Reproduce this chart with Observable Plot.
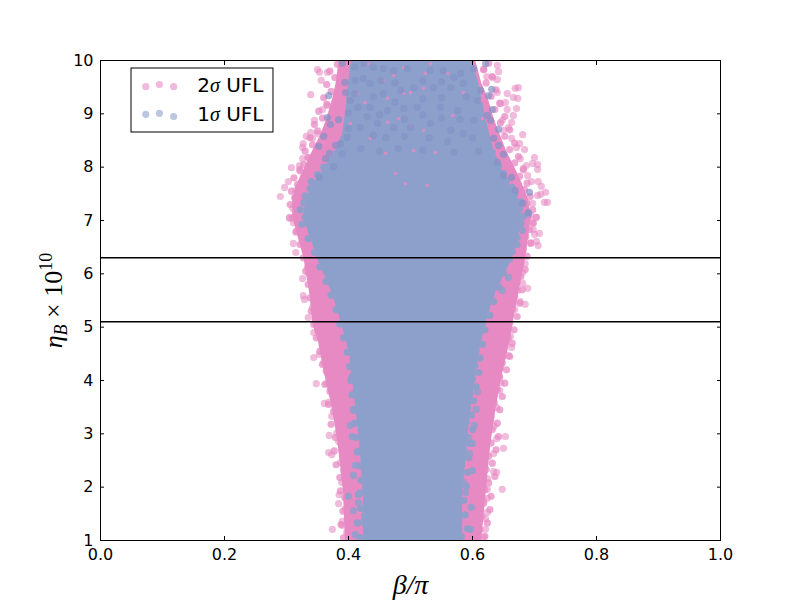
<!DOCTYPE html>
<html>
<head>
<meta charset="utf-8">
<style>html,body{margin:0;padding:0;background:#fff}</style>
<script src="https://cdn.jsdelivr.net/npm/d3@7"></script>
<script src="https://cdn.jsdelivr.net/npm/@observablehq/plot@0.6"></script>
</head>
<body>
<div id="chart"></div>
<script>
const xTicks = [0, 0.2, 0.4, 0.6, 0.8, 1];
const yTicks = [1, 2, 3, 4, 5, 6, 7, 8, 9, 10];
const bounds = [5.1, 6.3];
const pinkColor = "#e78ac3";
const blueColor = "#8da0cb";
const cloudColor = "#8291c5";

// dense core outline of each band: [eta, left, right]
const pinkCore = [[1,.395,.615],[1.9,.392,.622],[2.84,.383,.63],[3.47,.374,.638],[4.1,.362,.648],[4.7,.352,.66],[5.1,.342,.666],[5.6,.338,.674],[6.3,.328,.686],[7.06,.31,.695],[7.4,.31,.69],[7.7,.318,.68],[8,.33,.668],[8.3,.342,.655],[8.6,.355,.645],[8.9,.365,.635],[9.3,.375,.625],[9.57,.38,.615],[10,.385,.605]];
const blueCore = [[1,.424,.584],[1.9,.424,.584],[2.84,.418,.592],[3.47,.412,.597],[4.06,.406,.605],[4.5,.402,.61],[5.1,.388,.622],[5.63,.374,.636],[6.3,.349,.665],[6.57,.342,.672],[7.06,.327,.68],[7.4,.332,.674],[7.7,.344,.658],[8,.362,.645],[8.3,.38,.635],[8.6,.39,.628],[9,.395,.62],[9.57,.4,.61],[10,.405,.6]];

// individually visible points: [beta/pi, eta]
const pinkPoints = [[.290,7.45],[.297,7.62],[.303,7.73],[.308,7.99],[.321,7.96],[.326,8.37],[.327,8.44],[.332,8.58],[.339,8.65],[.345,8.88],[.339,9.36],[.350,9.83],[.356,9.63],[.353,9.78],[.366,9.78],[.358,9.08],[.366,9.16],[.305,7.04],[.310,7.23],[.313,7.43],[.319,7.62],[.327,7.81],[.321,8.03],[.326,8.16],[.334,8.18],[.342,8.54],[.350,8.63],[.360,8.63],[.327,7.69],[.315,7.56],
[.640,9.91],[.642,9.79],[.640,9.64],[.618,9.83],[.623,9.70],[.632,9.68],[.640,9.40],[.656,9.38],[.674,9.49],[.669,9.48],[.673,9.29],[.666,9.31],[.653,9.21],[.645,9.19],[.671,9.10],[.656,9.08],[.666,8.97],[.648,8.88],[.663,8.84],[.658,8.74],[.681,8.61],[.650,8.69],[.663,8.54],[.676,8.44],[.671,8.37],[.684,8.33],[.677,8.16],[.700,8.18],[.697,8.07],[.705,8.05],[.705,7.96],[.687,8.03],[.682,7.98],[.689,7.84],[.695,7.73],[.706,7.73],[.711,7.64],[.718,7.53],[.710,7.49],[.705,7.47],[.716,7.34],[.721,7.34],[.697,7.32],[.694,7.09],[.703,7.06],
[.305,7.06],[.311,6.96],[.315,6.78],[.311,6.57],[.315,6.40],[.326,5.91],[.327,5.59],[.329,5.52],[.342,5.37],[.335,5.18],[.334,6.12],[.335,6.01],[.344,4.90],[.350,4.94],[.355,5.03],[.344,4.43],[.353,4.49],[.360,4.34],[.369,4.21],[.382,4.32],[.342,5.69],
[.348,3.94],[.365,3.94],[.361,3.57],[.368,3.59],[.373,3.33],[.369,2.97],[.381,3.01],[.368,2.65],[.373,2.61],[.389,2.69],[.387,2.46],[.389,2.09],[.385,1.86],[.384,1.69],[.390,1.36],[.374,1.21],[.390,1.28],[.371,3.96],[.379,3.49],[.384,3.16],[.384,2.86],[.392,2.31],[.395,1.60],[.398,1.94],[.397,1.15],
[.703,7.06],[.697,6.96],[.708,6.76],[.700,6.74],[.698,6.83],[.703,6.61],[.706,6.53],[.694,6.57],[.685,6.19],[.681,6.03],[.681,5.82],[.689,5.73],[.673,5.69],[.677,5.48],[.685,5.43],[.668,5.33],[.660,5.28],[.661,4.83],[.658,4.79],[.663,4.62],[.658,4.47],[.648,4.43],[.645,4.23],[.640,4.13],[.644,4.06],
[.645,3.96],[.644,3.81],[.639,3.49],[.629,3.25],[.635,3.14],[.653,2.95],[.639,2.91],[.650,2.73],[.634,2.63],[.634,2.29],[.639,2.28],[.648,1.96],[.624,1.96],[.624,2.16],[.624,1.79],[.618,1.75],[.624,1.53],[.621,1.41],[.621,1.21],[.618,1.06]];

// pink points crowding the left and right edges of the dense core
const pinkEdgeLeft = [[.392,1.05],[.402,1.18],[.388,1.3],[.398,1.42],[.391,1.55],[.404,1.68],[.394,1.8],[.387,1.93],[.4,2.05],[.386,2.18],[.394,2.3],[.38,2.42],[.391,2.55],[.377,2.68],[.388,2.8],[.379,2.93],[.385,3.05],[.372,3.18],[.382,3.3],[.376,3.42],[.368,3.55],[.38,3.68],[.37,3.8],[.362,3.93],[.373,4.05],[.364,4.18],[.358,4.3],[.368,4.42],[.354,4.55],[.36,4.68],[.348,4.8],[.356,4.93],[.344,5.05],[.35,5.18],[.34,5.3],[.347,5.42],[.338,5.55],[.344,5.68],[.335,5.8],[.342,5.93],[.331,6.05],[.337,6.18],[.327,6.3],[.333,6.42],[.322,6.55],[.328,6.68],[.316,6.8],[.322,6.93],[.31,7.05],[.317,7.18],[.306,7.3],[.314,7.42],[.308,7.55],[.318,7.68],[.312,7.8],[.322,7.93],[.328,8.05],[.336,8.18],[.33,8.3],[.342,8.42],[.338,8.55],[.35,8.68],[.345,8.8],[.358,8.92],[.352,9.05],[.365,9.18],[.36,9.3],[.372,9.42],[.365,9.55],[.378,9.68],[.37,9.8],[.382,9.93]];
const pinkEdgeRight = [[.62,1.08],[.612,1.2],[.624,1.33],[.615,1.45],[.628,1.58],[.618,1.7],[.63,1.83],[.62,1.95],[.626,2.08],[.636,2.2],[.622,2.33],[.632,2.45],[.626,2.58],[.638,2.7],[.63,2.83],[.642,2.95],[.632,3.08],[.64,3.2],[.63,3.33],[.644,3.45],[.635,3.58],[.648,3.7],[.64,3.83],[.652,3.95],[.643,4.08],[.655,4.2],[.648,4.33],[.66,4.45],[.65,4.58],[.664,4.7],[.656,4.83],[.667,4.95],[.66,5.08],[.672,5.2],[.664,5.33],[.676,5.45],[.668,5.58],[.68,5.7],[.672,5.83],[.678,5.95],[.685,6.08],[.678,6.2],[.688,6.33],[.682,6.45],[.694,6.58],[.686,6.7],[.692,6.83],[.698,6.95],[.69,7.08],[.697,7.2],[.688,7.33],[.693,7.45],[.684,7.58],[.688,7.7],[.676,7.83],[.682,7.95],[.668,8.08],[.674,8.2],[.66,8.33],[.668,8.45],[.652,8.58],[.66,8.7],[.645,8.83],[.652,8.95],[.636,9.08],[.644,9.2],[.63,9.33],[.638,9.45],[.622,9.58],[.632,9.7],[.618,9.83],[.626,9.95]];

// blue points along the blue / pink border
const blueEdgeLeft = [[.418,1.06],[.43,1.2],[.414,1.33],[.426,1.46],[.42,1.6],[.432,1.73],[.416,1.86],[.428,2],[.42,2.13],[.432,2.26],[.418,2.4],[.426,2.53],[.414,2.66],[.424,2.8],[.412,2.93],[.422,3.06],[.41,3.2],[.42,3.33],[.408,3.46],[.418,3.6],[.406,3.73],[.414,3.86],[.404,4],[.412,4.13],[.402,4.26],[.408,4.4],[.398,4.53],[.404,4.66],[.392,4.8],[.398,4.93],[.386,5.06],[.392,5.2],[.38,5.33],[.386,5.46],[.372,5.6],[.378,5.73],[.364,5.86],[.37,6],[.354,6.13],[.36,6.26],[.345,6.4],[.35,6.53],[.335,6.66],[.34,6.8],[.325,6.93],[.33,7.06],[.322,7.2],[.328,7.33],[.33,7.46],[.338,7.6],[.34,7.73],[.35,7.86],[.36,8],[.372,8.13],[.38,8.26],[.39,8.4],[.392,8.53]];
const blueEdgeRight = [[.582,1.08],[.592,1.22],[.578,1.35],[.588,1.48],[.576,1.62],[.586,1.75],[.578,1.88],[.59,2.02],[.58,2.15],[.592,2.28],[.582,2.42],[.594,2.55],[.586,2.68],[.596,2.82],[.588,2.95],[.6,3.08],[.59,3.22],[.598,3.35],[.592,3.48],[.602,3.62],[.596,3.75],[.606,3.88],[.6,4.02],[.61,4.15],[.604,4.28],[.612,4.42],[.606,4.55],[.616,4.68],[.61,4.82],[.62,4.95],[.616,5.08],[.628,5.22],[.622,5.35],[.634,5.48],[.63,5.62],[.642,5.75],[.64,5.88],[.65,6.02],[.65,6.15],[.66,6.28],[.664,6.42],[.672,6.55],[.672,6.68],[.68,6.82],[.678,6.95],[.682,7.08],[.676,7.22],[.678,7.35],[.668,7.48],[.664,7.62],[.655,7.75],[.65,7.88],[.642,8.02],[.634,8.15],[.632,8.28]];

const bluePoints = [[.405,4.04],[.411,3.78],[.408,3.44],[.403,3.16],[.406,2.95],[.424,3.29],[.419,2.69],[.411,2.41],[.408,2.22],[.419,1.90],[.400,1.83],[.416,1.71],[.408,1.56],[.423,1.34],[.411,1.11],
[.595,4.06],[.608,3.79],[.606,3.46],[.603,3.16],[.594,2.93],[.600,2.82],[.595,2.63],[.600,2.31],[.585,2.09],[.589,1.90],[.598,1.62],[.597,1.21],
[.406,4.08],[.398,4.81],[.411,4.69],[.384,5.37],[.371,5.91],[.690,7.13],[.658,5.93],[.648,5.69]];

// darker blue cloud at the top of the band
const blueCloud = [[.368,9.34],[.394,9.59],[.411,9.63],[.424,9.66],[.403,9.25],[.366,8.93],[.371,8.80],[.360,8.58],[.352,8.39],[.384,8.89],[.379,8.41],[.387,8.44],[.363,8.16],[.369,8.26],[.398,8.56],[.376,8.01],[.353,7.81],[.440,9.87],[.456,9.85],[.473,9.81],[.495,9.85],[.435,9.57],[.456,9.38],[.484,9.44],[.505,9.49],[.415,9.12],[.435,9.12],[.463,9.06],[.489,9.10],[.511,9.12],[.419,8.74],[.447,8.82],[.473,8.74],[.500,8.74],
[.621,9.94],[.532,9.81],[.553,9.81],[.581,9.76],[.602,9.85],[.537,9.49],[.565,9.49],[.585,9.57],[.613,9.44],[.631,9.46],[.626,9.34],[.608,9.25],[.632,9.08],[.624,8.97],[.602,8.88],[.629,8.88],[.548,9.12],[.576,9.06],[.532,8.82],[.565,8.69],[.585,8.63],[.642,8.71],[.634,8.54],[.642,8.41],[.650,8.24],[.640,8.09],[.650,7.84],[.663,7.81],[.669,7.56],[.692,7.53],[.681,7.32],[.690,7.15],
[.39,9.95],[.41,9.88],[.425,9.95],[.452,9.62],[.475,9.58],[.52,9.62],[.55,9.6],[.57,9.68],[.395,9.4],[.41,9.38],[.44,9.32],[.475,9.22],[.52,9.28],[.55,9.3],[.59,9.32],[.4,9.02],[.43,8.95],[.45,8.98],[.49,8.9],[.52,8.98],[.55,8.92],[.58,8.9],[.4,8.72],[.44,8.6],[.46,8.55],[.49,8.58],[.53,8.55],[.56,8.48],[.6,8.55],[.39,8.25],[.42,8.35],[.45,8.3],[.48,8.35],[.52,8.32],[.57,8.28],[.61,8.3]];

// pink gaps that show through the blue cloud
const pinkGaps = [[.431,9.94],[.489,9.87],[.456,9.63],[.473,9.72],[.415,9.38],[.463,9.29],[.500,9.40],[.427,9.21],[.481,8.91],[.500,8.78],[.463,8.84],[.435,8.54],[.403,8.82],[.489,9.38],[.476,7.88],[.492,7.69],[.460,8.26],[.505,8.31],[.532,9.94],[.524,9.76],[.560,9.76],[.585,9.40],[.613,9.25],[.568,8.97],[.616,8.91],[.521,8.69],[.527,7.66],[.540,8.28],[.521,9.48]];

// legend
const legendBox = {x1: .05, x2: .279, y1: 8.65, y2: 9.85};
const legendPink = [[.073,9.51],[.095,9.55],[.118,9.51]];
const legendBlue = [[.073,8.99],[.095,9.01],[.118,8.95]];
const legendLabels = [{x: .156, y: 9.53, t: "2σ UFL"}, {x: .156, y: 8.99, t: "1σ UFL"}];

const r = 3.6;
const sans = "'DejaVu Sans'";
const serif = "'Liberation Serif'";
const scatter = (data, fill, fillOpacity) => Plot.dot(data, {x: d => d[0], y: d => d[1], r, fill, fillOpacity, stroke: "none", clip: true});
const plot = Plot.plot({
  width: 800, height: 600,
  marginLeft: 100, marginRight: 80, marginTop: 60, marginBottom: 60,
  style: {background: "#fff", fontFamily: sans, fontSize: "16px", color: "#000"},
  x: {domain: [0, 1], label: null},
  y: {domain: [1, 10], label: null},
  marks: [
    Plot.areaX(pinkCore, {y: d => d[0], x1: d => d[1], x2: d => d[2], fill: pinkColor, clip: true}),
    scatter(pinkPoints, pinkColor, 0.58),
    scatter(pinkEdgeLeft, pinkColor, 0.75),
    scatter(pinkEdgeRight, pinkColor, 0.75),
    Plot.areaX(blueCore, {y: d => d[0], x1: d => d[1], x2: d => d[2], fill: blueColor, clip: true}),
    scatter(blueEdgeLeft, blueColor, 0.95),
    scatter(blueEdgeRight, blueColor, 0.95),
    scatter(bluePoints, blueColor, 0.85),
    Plot.dot(pinkGaps, {x: d => d[0], y: d => d[1], r: 1.8, fill: pinkColor, fillOpacity: 0.85, stroke: "none", clip: true}),
    scatter(blueCloud, cloudColor, 0.7),
    Plot.ruleY(bounds, {stroke: "#000", strokeWidth: 1.5}),
    Plot.frame({stroke: "#000", strokeWidth: 1}),
    Plot.axisX({anchor: "bottom", ticks: xTicks, tickSize: -4, tickPadding: 12, tickFormat: d3.format(".1f"), label: null, stroke: "#000", fontSize: 16}),
    Plot.axisX({anchor: "top", ticks: xTicks, tickSize: -4, tickFormat: () => "", label: null, stroke: "#000"}),
    Plot.axisY({anchor: "left", ticks: yTicks, tickSize: -4, tickPadding: 11, tickFormat: d3.format("d"), label: null, stroke: "#000", fontSize: 16}),
    Plot.axisY({anchor: "right", ticks: yTicks, tickSize: -4, tickFormat: () => "", label: null, stroke: "#000"}),
    Plot.rect([legendBox], {x1: "x1", x2: "x2", y1: "y1", y2: "y2", fill: "#fff", stroke: "#000", strokeWidth: 1}),
    Plot.dot(legendPink, {x: d => d[0], y: d => d[1], r, fill: pinkColor, fillOpacity: 0.6, stroke: "none"}),
    Plot.dot(legendBlue, {x: d => d[0], y: d => d[1], r, fill: blueColor, fillOpacity: 0.6, stroke: "none"}),
    Plot.text(legendLabels, {x: "x", y: "y", text: "t", textAnchor: "start", fontSize: 20, fill: "#000", fontFamily: sans, className: "legend-label"}),
    Plot.text(["β/π"], {frameAnchor: "bottom", dy: 53, fontSize: 28, fontFamily: serif, fontStyle: "italic", fill: "#000", className: "x-title"}),
    Plot.text(["ηB × 1010"], {frameAnchor: "left", textAnchor: "middle", dx: -47, rotate: -90, fontSize: 26, fontFamily: serif, fill: "#000", className: "y-title"})
  ]
});
document.getElementById("chart").append(plot);

// rich text: italic sigma in the legend, sub/superscripts in the y title
d3.select(plot).selectAll(".legend-label text").each(function () {
  const s = d3.select(this), t = s.text();
  s.text(null);
  s.append("tspan").text(t[0]);
  s.append("tspan").attr("font-family", serif).attr("font-style", "italic").text(t[1]);
  s.append("tspan").text(t.slice(2));
});
d3.select(plot).selectAll(".y-title text").each(function () {
  const s = d3.select(this);
  s.text(null);
  s.append("tspan").attr("font-style", "italic").text("η");
  s.append("tspan").attr("font-style", "italic").attr("font-size", 18).attr("dy", 5).text("B");
  s.append("tspan").attr("dy", -5).text(" × 10");
  s.append("tspan").attr("font-size", 18).attr("dy", -10).text("10");
});
</script>
</body>
</html>
